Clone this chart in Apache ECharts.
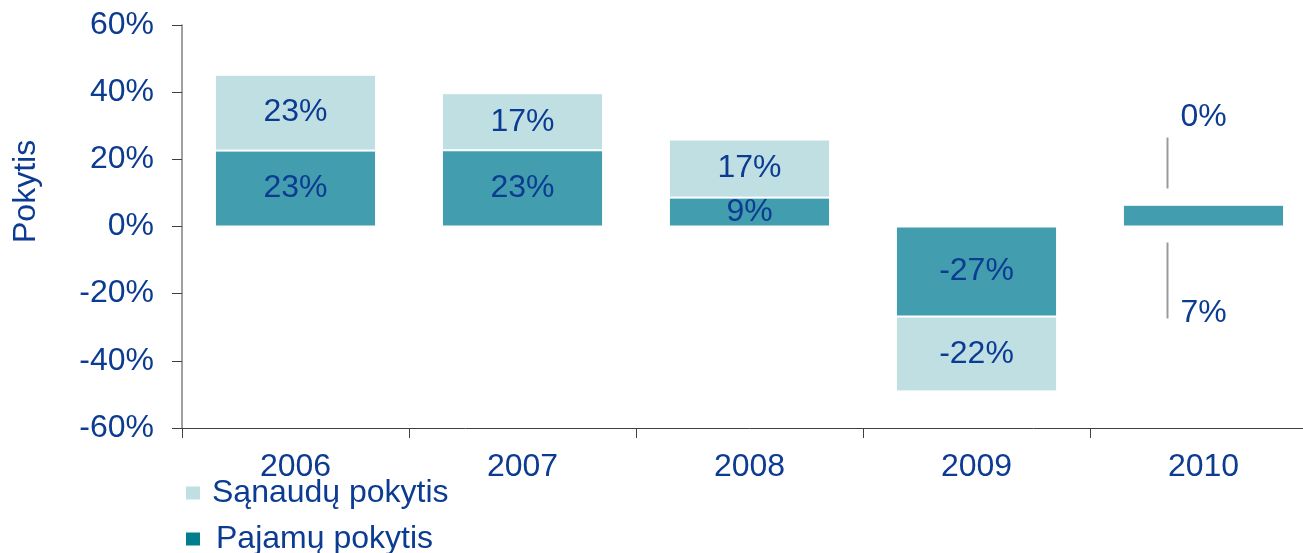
<!DOCTYPE html>
<html><head><meta charset="utf-8">
<script src="https://cdn.jsdelivr.net/npm/echarts@6/dist/echarts.min.js"></script>
<style>html,body{margin:0;padding:0;background:#fff;overflow:hidden}#c{width:1320px;height:553px}</style>
</head><body><div id="c"></div>
<script>
const categories = ['2006','2007','2008','2009','2010'];
const pajamu = [22.6, 22.7, 8.6, -26.8, 6.5];
const sanaudu = [22.6, 17.0, 17.3, -22.3, 0];
const yTicks = {min:-60, max:60, interval:20};
const TXT = '#0c3b92';
const FONT = 'Liberation Sans';
const FS = 32;

const chart = echarts.init(document.getElementById('c'), null, {renderer:'canvas'});
const lbl = {show:true, position:'inside', color:TXT, fontFamily:FONT, fontSize:FS,
  formatter: p => Math.round(p.value) + '%'};
function mk(arr, last) {
  return arr.map((v,i) => i === arr.length-1 ? {value:v, label:{offset:last}} : v);
}
const legTxt = {color:TXT, fontFamily:FONT, fontSize:FS, padding:[4,0,0,6]};
chart.setOption({
  animation:false,
  textStyle:{fontFamily:FONT},
  grid:{left:182, right:3, top:25, height:403},
  legend:[
    {left:184, top:477, padding:0, itemWidth:16, itemHeight:15, icon:'rect', selectedMode:false,
     textStyle:legTxt, data:[{name:'Sąnaudų pokytis', itemStyle:{color:'#c0dfe3'}}]},
    {left:184, top:523, padding:0, itemWidth:16, itemHeight:15, icon:'rect', selectedMode:false,
     textStyle:Object.assign({}, legTxt, {padding:[0,0,0,10]}),
     data:[{name:'Pajamų pokytis', itemStyle:{color:'#007e8e'}}]}
  ],
  xAxis:[
    {type:'category', data:categories, position:'bottom',
     axisLine:{show:false}, axisTick:{show:false},
     axisLabel:{color:TXT, fontFamily:FONT, fontSize:FS, margin:23}},
    {type:'category', data:categories, position:'bottom',
     axisLine:{show:true, onZero:true, lineStyle:{color:'#404040', width:1}},
     axisTick:{show:true, length:10, lineStyle:{color:'#404040'}},
     axisLabel:{show:false}}
  ],
  yAxis:{type:'value', min:yTicks.min, max:yTicks.max, interval:yTicks.interval,
    splitLine:{show:false},
    axisLine:{show:true, lineStyle:{color:'#808080', width:1.5}},
    axisTick:{show:true, length:10, lineStyle:{color:'#404040'}},
    axisLabel:{color:TXT, fontFamily:FONT, fontSize:FS, margin:28, formatter:'{value}%'}},
  series:[
    {name:'Pajamų pokytis', type:'bar', stack:'a', data:mk(pajamu,[0,98]), barWidth:'71%',
     itemStyle:{color:'#429daf', borderColor:'#fff', borderWidth:1}, label:lbl},
    {name:'Sąnaudų pokytis', type:'bar', stack:'a', data:mk(sanaudu,[0,-87]), barWidth:'71%',
     itemStyle:{color:'#c0dfe3', borderColor:'#fff', borderWidth:1}, label:lbl}
  ]
});
// leader lines for 2010 labels, positioned from the scale
const c0 = chart.convertToPixel({xAxisIndex:0, yAxisIndex:0}, [categories[4], 0]);
const gx = c0[0] - 36;
chart.setOption({graphic:[
  {type:'text', rotation:Math.PI/2, x:10, y:243,
   style:{text:'Pokytis', fill:TXT, font:FS + 'px "Liberation Sans"'}},
  {type:'line', shape:{x1:gx, y1:c0[1]-89, x2:gx, y2:c0[1]-38}, style:{stroke:'#9a9a9a', lineWidth:2}},
  {type:'line', shape:{x1:gx, y1:c0[1]+16, x2:gx, y2:c0[1]+92}, style:{stroke:'#9a9a9a', lineWidth:2}}
]});
</script></body></html>
